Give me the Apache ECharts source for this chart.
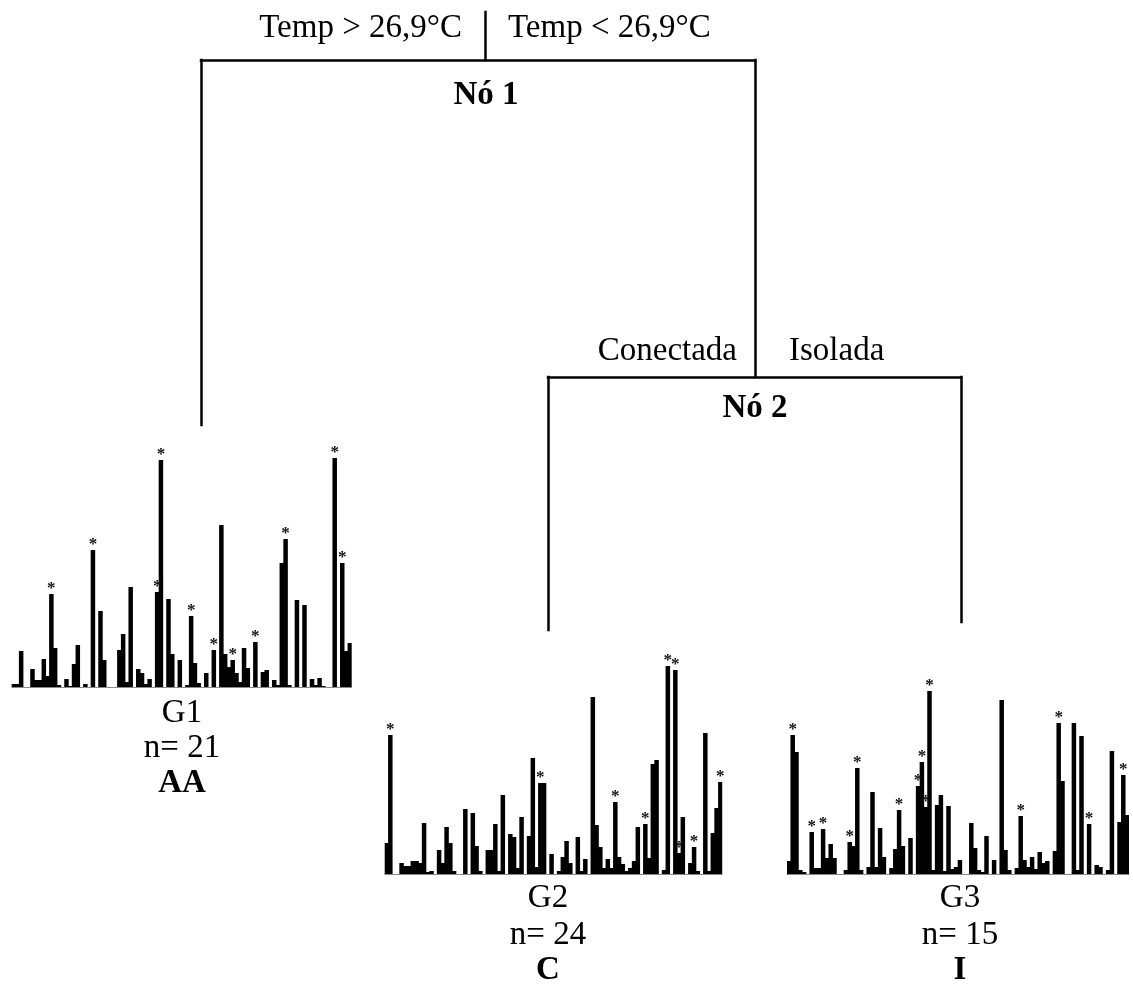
<!DOCTYPE html>
<html>
<head>
<meta charset="utf-8">
<script src="https://cdn.jsdelivr.net/npm/echarts@6/dist/echarts.min.js"></script>
<style>
html,body{margin:0;padding:0;background:#fff;}
#chart{width:1133px;height:989px;}
</style>
</head>
<body>
<div id="chart"></div>
<script>
// ---- data ----
const splitLabelsNode1 = ["Temp > 26,9°C", "Temp < 26,9°C"];
const splitLabelsNode2 = ["Conectada", "Isolada"];
const nodeNames = ["Nó 1", "Nó 2"];
const groupNames = ["G1", "G2", "G3"];
const groupN = [21, 24, 15];
const groupClass = ["AA", "C", "I"];

const g1Values = [3,3,36,0,0,18,7,7,28,11,93,39,2,0,8,1,23,42,0,3,0,137,0,76,27,0,0,0,37,53,5,100,0,18,14,3,8,0,95,227,0,88,33,0,27,0,2,71,24,4,0,14,0,37,0,162,33,20,27,14,5,39,19,0,45,0,15,17,0,7,2,124,148,2,0,87,0,82,0,8,2,9,1,0,0,229,0,124,36,44];
const g1Stars = [11,22,39,40,48,54,59,65,73,86,88];

const g2Values = [31,139,0,0,11,8,8,13,13,11,51,2,3,0,24,11,47,31,3,0,0,65,0,61,28,3,0,24,24,50,3,79,0,40,37,6,57,0,38,116,7,91,91,0,20,0,3,17,33,11,0,37,3,15,0,177,49,27,6,15,6,72,17,10,3,6,13,47,0,50,16,110,114,0,4,208,0,204,21,57,0,11,27,3,0,141,3,41,66,92];
const g2Stars = [2,42,62,70,76,78,79,83,90];

const g3Values = [13,139,122,4,2,0,42,6,6,45,16,30,16,0,0,4,32,28,106,4,0,7,82,7,46,17,0,6,25,64,28,0,36,0,88,112,67,183,4,69,79,3,68,5,7,14,0,0,51,26,4,2,38,0,14,0,174,24,4,0,6,58,14,7,17,5,22,11,13,0,23,151,93,0,0,151,4,138,0,50,0,9,7,0,4,123,0,52,99,59];
const g3Stars = [2,7,10,17,19,30,35,36,37,38,62,72,80,89];

// ---- layout (pixels) ----
const W = 1133, H = 989;
const panels = [
  {left: 11.7, width: 340, baseline: 687},
  {left: 384.7, width: 337.5, baseline: 874},
  {left: 787, width: 342, baseline: 874}
];
const panelHeight = 250;
const treeLayout = {
  node1: {x: 485, top: 12, bar: 60, leftX: 201, rightX: 755, leftEnd: 425, rightEnd: 377},
  node2: {x: 755, bar: 377, leftX: 548, rightX: 961, leftEnd: 630, rightEnd: 622}
};

const FONT = "'Liberation Serif', 'Times New Roman', serif";
const FS = 33;

const chart = echarts.init(document.getElementById('chart'), null, {renderer: 'canvas'});

const seriesVals = [g1Values, g2Values, g3Values];
const seriesStars = [g1Stars, g2Stars, g3Stars];

const grids = [], xAxes = [], yAxes = [], series = [];
panels.forEach((p, i) => {
  grids.push({left: p.left, width: p.width, top: p.baseline - panelHeight, height: panelHeight, containLabel: false});
  xAxes.push({
    type: 'category', gridIndex: i,
    data: seriesVals[i].map((_, k) => k + 1),
    boundaryGap: true,
    axisTick: {show: false}, axisLabel: {show: false},
    axisLine: {show: true, lineStyle: {color: '#8a8a8a', width: 1}},
    splitLine: {show: false}
  });
  yAxes.push({type: 'value', gridIndex: i, min: 0, max: panelHeight, show: false, splitLine: {show: false}});
  series.push({
    type: 'bar', xAxisIndex: i, yAxisIndex: i,
    barWidth: 4.5,
    itemStyle: {color: '#000'},
    label: {show: false, position: 'top', distance: -3, formatter: '*',
            fontFamily: FONT, fontSize: 17, color: '#111', fontWeight: 'bold'},
    data: seriesVals[i].map((v, k) => seriesStars[i].includes(k + 1)
      ? {value: v, label: {show: true}} : v)
  });
});

// overlay grid for tree connectors
grids.push({left: 0, top: 0, width: W, height: H});
xAxes.push({type: 'value', gridIndex: 3, min: 0, max: W, show: false});
yAxes.push({type: 'value', gridIndex: 3, min: 0, max: H, inverse: true, show: false});

const n1 = treeLayout.node1, n2 = treeLayout.node2;
const segments = [
  [[n1.x, n1.top], [n1.x, n1.bar]],
  [[n1.leftX, n1.bar], [n1.rightX, n1.bar]],
  [[n1.leftX, n1.bar], [n1.leftX, n1.leftEnd]],
  [[n1.rightX, n1.bar], [n1.rightX, n1.rightEnd]],
  [[n2.leftX, n2.bar], [n2.rightX, n2.bar]],
  [[n2.leftX, n2.bar], [n2.leftX, n2.leftEnd]],
  [[n2.rightX, n2.bar], [n2.rightX, n2.rightEnd]]
];
series.push({
  type: 'lines', coordinateSystem: 'cartesian2d', xAxisIndex: 3, yAxisIndex: 3,
  polyline: false, silent: true,
  lineStyle: {color: '#000', width: 2.5, opacity: 1, cap: 'square'},
  data: segments.map(s => ({coords: s}))
});

function txt(text, x, y, align, bold) {
  return {type: 'text', x: x, y: y, silent: true,
    style: {text: text, fill: '#000', font: (bold ? 'bold ' : '') + FS + 'px ' + FONT,
            textAlign: align, textVerticalAlign: 'middle'}};
}
const groupTextX = [182, 548, 960];
const groupTextY = [[713, 748, 783], [898, 935, 970], [898, 935, 970]];
const graphics = [
  txt(splitLabelsNode1[0], 462, 28, 'right', false),
  txt(splitLabelsNode1[1], 508, 28, 'left', false),
  txt(nodeNames[0], 486, 95, 'center', true),
  txt(splitLabelsNode2[0], 737, 351, 'right', false),
  txt(splitLabelsNode2[1], 789, 351, 'left', false),
  txt(nodeNames[1], 755, 408, 'center', true)
];
groupNames.forEach((g, i) => {
  graphics.push(txt(g, groupTextX[i], groupTextY[i][0], 'center', false));
  graphics.push(txt('n= ' + groupN[i], groupTextX[i], groupTextY[i][1], 'center', false));
  graphics.push(txt(groupClass[i], groupTextX[i], groupTextY[i][2], 'center', true));
});

chart.setOption({
  animation: false,
  backgroundColor: '#fff',
  grid: grids, xAxis: xAxes, yAxis: yAxes,
  series: series,
  graphic: graphics
});
</script>
</body>
</html>
